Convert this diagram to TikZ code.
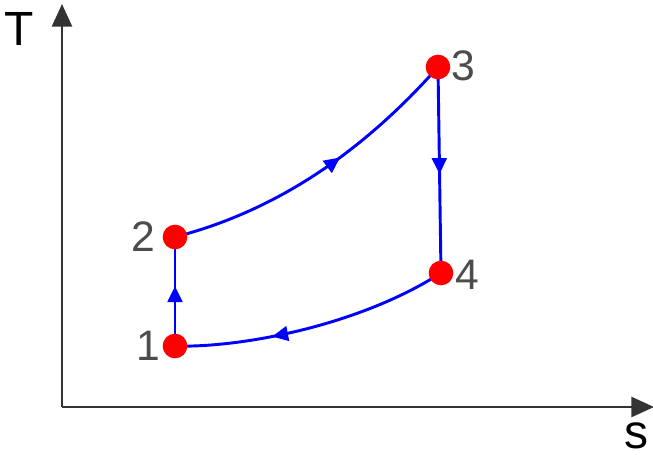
\documentclass[tikz,border=0pt]{standalone}
\usepackage{fontspec}
\setmainfont{Liberation Sans}
\usetikzlibrary{arrows.meta,decorations.markings}
\tikzset{
  axis/.style={black!80, line width=2pt, -{Triangle[length=17pt,width=15pt]}},
  cycle/.style={blue, line width=2.2pt},
  midarrow/.style={postaction={decorate}, decoration={markings,
      mark=at position #1 with {\arrow{Triangle[length=12pt,width=11pt]}}}},
  midarrow/.default=0.5,
  state/.style={circle, fill=red, inner sep=0pt, minimum size=18.5pt},
  numlbl/.style={text=black!70, font=\fontsize{32}{36}\selectfont, inner sep=0pt},
  axlbl/.style={text=black, font=\fontsize{36}{40}\selectfont, inner sep=0pt}
}
\begin{document}
\begin{tikzpicture}[x=0.75pt, y=-0.75pt]
  \useasboundingbox (0,0) rectangle (653,454);
  % axes
  \coordinate (o) at (62,407);
  \coordinate (ttop) at (62,4);
  \coordinate (send) at (654,407);
  \draw[axis] (o) -- (ttop);
  \draw[axis] (o) -- (send);
  \node[axlbl, anchor=base] (tlab) at (19,45) {T};
  \node[axlbl, anchor=base] (slab) at (636,448) {s};
  % cycle points
  \coordinate (s1) at (175,346);
  \coordinate (s2) at (175,237);
  \coordinate (s3) at (438,67);
  \coordinate (s4) at (441,273);
  \draw[cycle, midarrow=0.55] (s1) -- (s2);
  \draw[cycle, midarrow=0.58] (s2) .. controls (272,212) and (359,156) .. (s3);
  \draw[cycle, midarrow=0.52] (s3) -- (s4);
  \draw[cycle, midarrow=0.65] (s4) .. controls (355,328) and (235,348) .. (s1);
  \foreach \i in {1,...,4}
    \node[state] (p\i) at (s\i) {};
  \node[numlbl] (n1) at (148,346) {1};
  \node[numlbl] (n2) at (143,237) {2};
  \node[numlbl] (n3) at (463,66) {3};
  \node[numlbl] (n4) at (467,275) {4};
\end{tikzpicture}
\end{document}
